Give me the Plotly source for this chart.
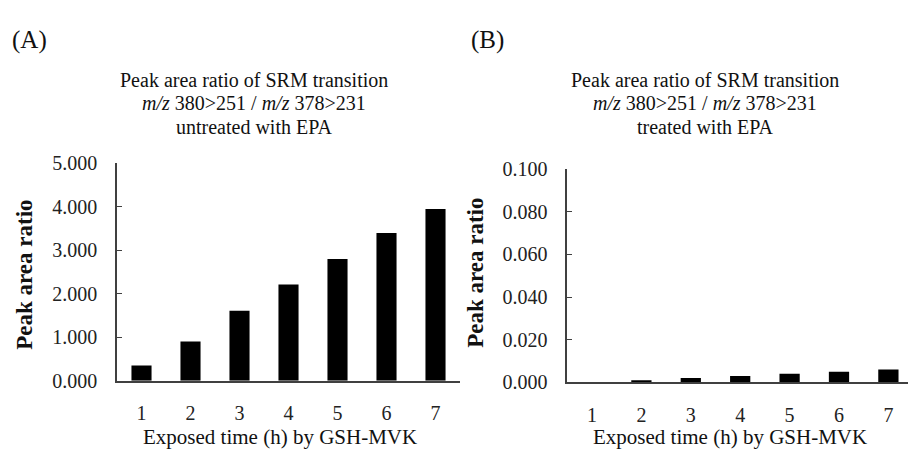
import plotly.graph_objects as go

hours = [1, 2, 3, 4, 5, 6, 7]
untreated = [0.35, 0.90, 1.61, 2.21, 2.80, 3.40, 3.95]
treated = [0.000, 0.001, 0.002, 0.003, 0.004, 0.005, 0.006]
left_yticks = [0, 1, 2, 3, 4, 5]
right_yticks = [0.0, 0.02, 0.04, 0.06, 0.08, 0.1]

W, H = 908, 459
FONT = "Liberation Serif"

def px(x):
    return x / W

def py(y):
    return 1 - y / H

fig = go.Figure()
fig.add_trace(go.Bar(x=hours, y=untreated, width=0.41, marker=dict(color="black", line=dict(width=0)),
                     xaxis="x", yaxis="y", showlegend=False))
fig.add_trace(go.Bar(x=hours, y=treated, width=0.41, marker=dict(color="black", line=dict(width=0)),
                     xaxis="x2", yaxis="y2", showlegend=False))

axis_line = "#404040"
common_x = dict(showline=True, linecolor=axis_line, linewidth=1.5, showgrid=False, zeroline=False,
                ticks="", tickmode="array", tickvals=hours, ticktext=[str(h) for h in hours],
                tickfont=dict(family=FONT, size=20, color="#222"), ticklabelstandoff=14)
common_y = dict(showline=True, linecolor=axis_line, linewidth=1.5, showgrid=False, zeroline=False,
                ticks="inside", ticklen=5, tickcolor=axis_line, tickwidth=1.2,
                tickformat=".3f", tickfont=dict(family=FONT, size=20, color="#222"), ticklabelstandoff=14)

fig.update_layout(
    width=W, height=H,
    margin=dict(l=0, r=0, t=0, b=0),
    paper_bgcolor="white", plot_bgcolor="white",
    font=dict(family=FONT),
    xaxis=dict(domain=[px(117), px(460)], range=[0.5, 7.5], anchor="y", **common_x),
    yaxis=dict(domain=[py(388.3), py(160)], range=[0, 5], anchor="x", tickvals=left_yticks, **common_y),
    xaxis2=dict(domain=[px(567.3), 1.0], range=[0.5, 7.397], anchor="y2", **common_x),
    yaxis2=dict(domain=[py(390), py(166)], range=[0, 0.1], anchor="x2", tickvals=right_yticks, **common_y),
)

ann = []
def add(text, x, y, size, bold=False, angle=0):
    t = f"<b>{text}</b>" if bold else text
    ann.append(dict(text=t, x=px(x), y=py(y), xref="paper", yref="paper", showarrow=False,
                    xanchor="center", yanchor="middle", textangle=angle,
                    font=dict(family=FONT, size=size, color="#111")))

add("(A)", 29, 30, 25)
add("(B)", 487, 30, 25)
line1 = "Peak area ratio of SRM transition"
line2 = "<i>m/z</i> 380>251 / <i>m/z</i> 378>231"
for cx, line3 in [(254, "untreated with EPA"), (705, "treated with EPA")]:
    add(line1, cx, 72, 20)
    add(line2, cx, 97, 20)
    add(line3, cx, 122, 20)
add("Peak area ratio", 25, 277, 23, bold=True, angle=-90)
add("Peak area ratio", 476, 275, 23, bold=True, angle=-90)
add("Exposed time (h) by GSH-MVK", 279.5, 447, 21)
add("Exposed time (h) by GSH-MVK", 729.5, 447, 21)
fig.update_layout(annotations=ann)

fig.write_html("out.html")
